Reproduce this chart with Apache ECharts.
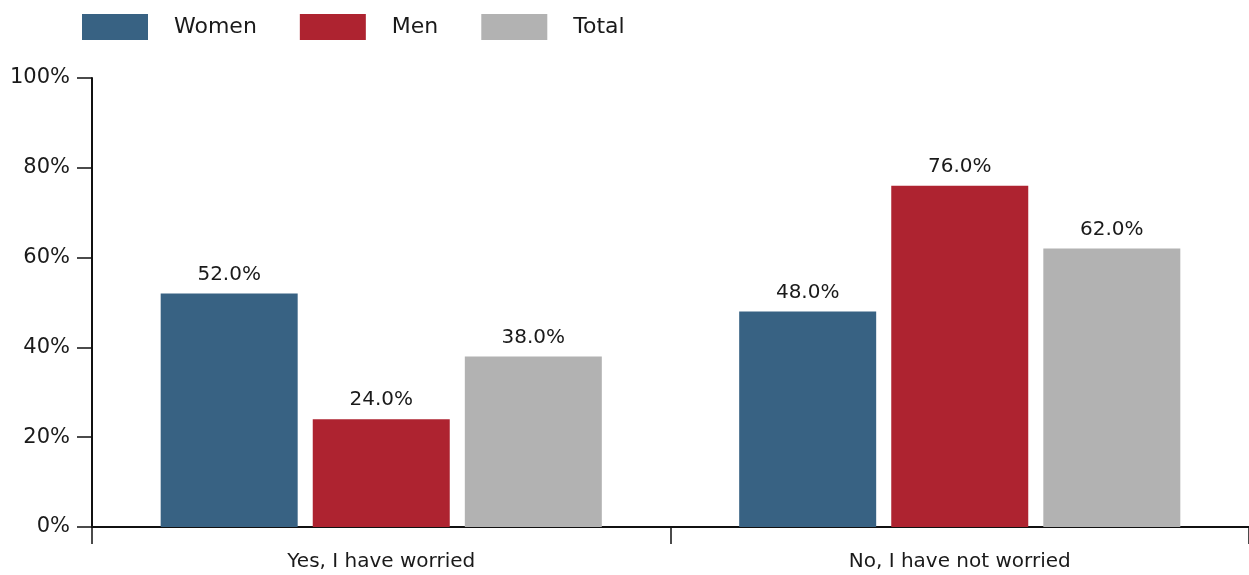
<!DOCTYPE html>
<html>
<head>
<meta charset="utf-8">
<script src="https://cdn.jsdelivr.net/npm/echarts@6/dist/echarts.min.js"></script>
<style>html,body{margin:0;padding:0;background:#fff}#c{width:1249px;height:575px}</style>
</head>
<body>
<div id="c"></div>
<script>
const categories = ['Yes, I have worried', 'No, I have not worried'];
const women = [52.0, 48.0];
const men = [24.0, 76.0];
const total = [38.0, 62.0];
const yTicks = [0, 20, 40, 60, 80, 100];

const FONT = 'DejaVu Sans';
const TXT = '#1a1a1a';
const chart = echarts.init(document.getElementById('c'));
function mk(name, data, color) {
  return {
    name, type: 'bar', data, barWidth: 137, barGap: '11%',
    itemStyle: { color },
    label: { show: true, position: 'top', distance: 9, formatter: p => p.value.toFixed(1) + '%',
      color: TXT, fontFamily: FONT, fontSize: 20 }
  };
}
chart.setOption({
  animation: false,
  legend: {
    left: 77, top: 9, itemWidth: 66, itemHeight: 26, itemGap: 43,
    icon: 'rect',
    textStyle: { color: TXT, fontFamily: FONT, fontSize: 22, padding: [0, 0, 0, 21] },
    data: ['Women', 'Men', 'Total']
  },
  grid: { left: 92, right: 0, top: 78, bottom: 48 },
  xAxis: {
    type: 'category', data: categories,
    axisLine: { lineStyle: { color: '#111', width: 2 } },
    axisTick: { show: true, length: 17, lineStyle: { color: '#111', width: 1.5 } },
    axisLabel: { color: TXT, fontFamily: FONT, fontSize: 20, margin: 25 }
  },
  yAxis: {
    type: 'value', min: 0, max: 100, interval: 20,
    axisLine: { show: true, lineStyle: { color: '#111', width: 2 } },
    axisTick: { show: true, length: 15, lineStyle: { color: '#111', width: 1.5 } },
    splitLine: { show: false },
    axisLabel: { color: TXT, fontFamily: FONT, fontSize: 21, margin: 22,
      formatter: v => yTicks.includes(v) ? v + '%' : '' }
  },
  series: [
    mk('Women', women, '#386283'),
    mk('Men', men, '#ae2330'),
    mk('Total', total, '#b2b2b2')
  ]
});
</script>
</body>
</html>
